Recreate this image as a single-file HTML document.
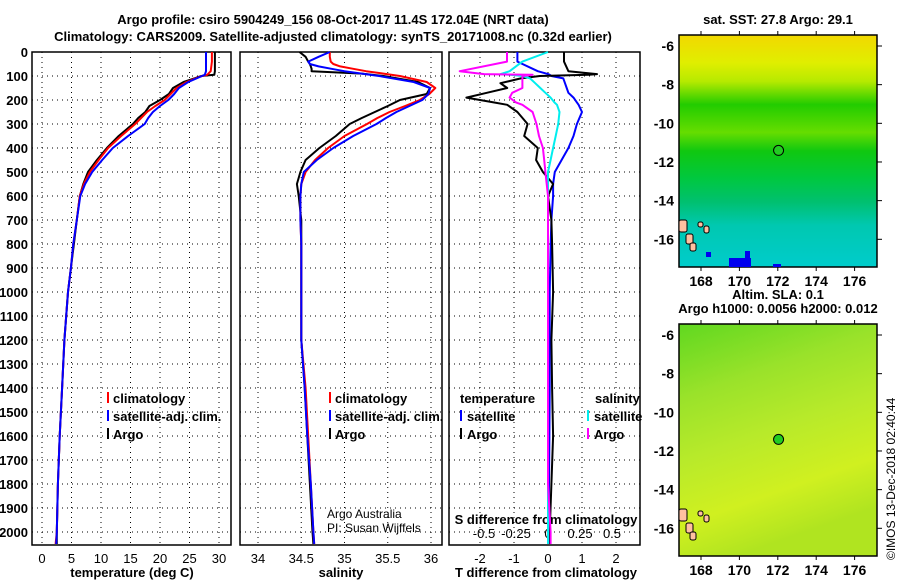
<!DOCTYPE html>
<html><head><meta charset="utf-8">
<style>
html,body{margin:0;padding:0;background:#fff;}
svg{display:block;font-family:"Liberation Sans",Arial,sans-serif;}
.b{font-weight:bold;font-size:13px;}
.t{font-weight:bold;font-size:13px;}
</style></head>
<body>
<svg id="c" width="900" height="580" viewBox="0 0 900 580" xmlns="http://www.w3.org/2000/svg">
<defs>
<linearGradient id="sstg" x1="0" y1="0" x2="0" y2="1">
<stop offset="0" stop-color="#f2d800"/><stop offset="0.12" stop-color="#e0ee00"/>
<stop offset="0.2" stop-color="#b6ea00"/><stop offset="0.3" stop-color="#22cc00"/>
<stop offset="0.42" stop-color="#66dd00"/><stop offset="0.5" stop-color="#10c810"/>
<stop offset="0.62" stop-color="#00c840"/><stop offset="0.72" stop-color="#00c070"/>
<stop offset="0.82" stop-color="#00c8b0"/><stop offset="1" stop-color="#00cccc"/>
</linearGradient>
<linearGradient id="slag" x1="0" y1="0" x2="0.3" y2="1">
<stop offset="0" stop-color="#60d820"/><stop offset="0.3" stop-color="#9ae22a"/>
<stop offset="0.55" stop-color="#b8ea2a"/><stop offset="0.8" stop-color="#d0f020"/>
<stop offset="1" stop-color="#b0e420"/>
</linearGradient>
</defs>
<text x="333" y="24" text-anchor="middle" class="t">Argo profile: csiro 5904249_156 08-Oct-2017 11.4S 172.04E (NRT data)</text>
<text x="333" y="41" text-anchor="middle" class="t">Climatology: CARS2009. Satellite-adjusted climatology: synTS_20171008.nc (0.32d earlier)</text>
<g id="g"></g>
</svg>
<script>
// ---- data ----
const depthT = [0,40,80,95,100,110,125,150,175,200,225,250,275,300,350,400,450,500,550,600,700,800,900,1000,1200,1400,1600,1800,2000,2050];
const tempClim = [28.8,28.8,28.6,28,27.1,26,24.5,22.8,21.8,20.8,19.2,17.8,16.8,15.8,13.4,11.2,9.6,8.1,7.1,6.4,5.9,5.3,4.9,4.4,3.8,3.4,3.0,2.7,2.5,2.3];
const tempSat = [27.8,27.8,27.8,27.6,27.1,26.2,24.8,23.2,22.4,21.4,20,18.8,18,17.4,14.6,12.0,10.2,8.5,7.3,6.5,5.9,5.3,4.9,4.4,3.8,3.4,3.0,2.7,2.5,2.4];
const tempArgo = [29.3,29.3,29.3,29.2,27.0,25.8,24,22.2,21.5,20.0,18.2,17.5,16.3,15.4,13.0,11.0,9.3,7.8,7.0,6.4,5.9,5.4,4.9,4.4,3.8,3.4,3.0,2.7,2.5,2.5];
const depthS = [0,20,40,50,60,70,80,90,100,125,150,175,200,225,250,275,300,350,400,450,500,550,600,700,800,1000,1200,1400,1600,1800,2000,2050];
const salClim = [34.83,34.83,34.84,34.87,34.95,35.1,35.25,35.45,35.64,35.95,36.05,35.98,35.87,35.7,35.52,35.38,35.26,35.0,34.81,34.66,34.55,34.5,34.49,34.49,34.5,34.5,34.5,34.55,34.58,34.61,34.64,34.65];
const salSat = [34.83,34.7,34.58,34.6,34.7,34.85,35.0,35.2,35.4,35.8,35.99,35.97,35.9,35.75,35.6,35.48,35.37,35.1,34.87,34.68,34.53,34.5,34.49,34.49,34.5,34.5,34.5,34.54,34.57,34.61,34.64,34.65];
const salArgo = [34.48,34.55,34.58,34.6,34.61,34.62,34.62,35.2,35.45,35.85,35.99,35.95,35.64,35.5,35.35,35.2,35.06,34.9,34.71,34.55,34.49,34.45,34.47,34.5,34.5,34.5,34.5,34.54,34.57,34.6,34.63,34.64];
const depthD = [0,40,80,92,95,100,110,130,150,170,190,210,220,250,300,350,400,450,500,550,600,700,800,1000,1200,1400,1600,1800,2000,2050];
const dTArgo = [0.47,0.47,0.6,1.44,1.2,-0.24,-0.8,-1.4,-1.2,-1.8,-2.4,-1.6,-1.2,-0.9,-0.6,-0.7,-0.3,-0.35,-0.15,0.15,0,0.1,0.12,0.15,0.1,0.12,0.15,0.1,0.05,0.05];
const dTSat = [-0.9,-0.9,-0.3,0,0.05,0.1,0.45,0.5,0.55,0.6,0.75,0.85,0.9,1.0,0.85,0.75,0.6,0.4,0.2,0.15,0.15,0.1,0.08,0.05,0.05,0.05,0.04,0.03,0.02,0.02];
const dSSat = [0,-0.2,-0.3,-0.37,-0.3,-0.2,-0.14,-0.1,-0.06,-0.02,0.02,0.05,0.07,0.09,0.08,0.06,0.04,0.02,0,0,0,0,0,0,0,0,0,0,0,0];
const dSArgo = [-0.32,-0.32,-0.69,-0.5,-0.12,-0.2,-0.2,-0.2,-0.2,-0.28,-0.3,-0.25,-0.2,-0.12,-0.09,-0.07,-0.04,-0.03,-0.02,-0.01,0,0,0,0,0,0,0,0,0.02,0.02];
const depthTicks = [0,100,200,300,400,500,600,700,800,900,1000,1100,1200,1300,1400,1500,1600,1700,1800,1900,2000];
const tTicks = [0,5,10,15,20,25,30];
const sTicks = [34,34.5,35,35.5,36];
const sTickLabels = ['34','34.5','35','35.5','36'];
const dTTicks = [-2,-1,0,1,2];
const dSTicks = [-0.5,-0.25,0,0.25,0.5];
const dSTickLabels = ['-0.5','-0.25','0','0.25','0.5'];
const lonTicks = [168,170,172,174,176];
const latTicks = [-6,-8,-10,-12,-14,-16];
const argoLon = [172.04];
const argoLat = [-11.4];

// ---- scales ----
const NS='http://www.w3.org/2000/svg';
const G=document.getElementById('g');
function el(tag,attrs,parent){const e=document.createElementNS(NS,tag);for(const k in attrs)e.setAttribute(k,attrs[k]);(parent||G).appendChild(e);return e;}
const yD = d => 52 + d*0.24;
const xT = t => 42 + t*5.9;
const xS = s => 258 + (s-34)*86.5;
const xDT = v => 548 + v*34;
const xDS = v => 548 + v*128;
const TOP=52, BOT=545;

function frame(x0,x1,name){
  const r=el('rect',{x:x0,y:TOP,width:x1-x0,height:BOT-TOP,fill:'none',stroke:'#000','stroke-width':1.5});
  
  
  depthTicks.forEach(d=>{
    const l=el('line',{x1:x0,x2:x1,y1:yD(d),y2:yD(d),stroke:'#000','stroke-dasharray':'1,4','stroke-width':1});
    
    
  });
}
function vgrid(xs,fx,name){
  xs.forEach(v=>{
    const l=el('line',{x1:fx(v),x2:fx(v),y1:TOP,y2:BOT,stroke:'#000','stroke-dasharray':'1,4','stroke-width':1});
    
    
  });
}
function line(ds,vs,fx,color,name,w){
  const p=ds.map((d,i)=>fx(vs[i]).toFixed(1)+','+yD(d).toFixed(1)).join(' ');
  const e=el('polyline',{points:p,fill:'none',stroke:color,'stroke-width':w||2,'stroke-linejoin':'round'});
  
  
}
function txt(x,y,s,anchor,name,extra){
  const t=el('text',Object.assign({x:x,y:y,'text-anchor':anchor||'start','font-size':13,'font-weight':'bold'},extra||{}));
  t.textContent=s;
  
  
  return t;
}
function legendMark(x,y,color){
  const l=el('line',{x1:x,x2:x,y1:y-11,y2:y,stroke:color,'stroke-width':2});
  
  
}

// ---- panel 1 temperature ----
frame(32,231,'temperature-panel');
vgrid(tTicks,xT,'temperature-gridline');
depthTicks.forEach(d=>txt(28,yD(d)+5,String(d),'end','depth-tick-label'));
tTicks.forEach(t=>txt(xT(t),563,String(t),'middle','temperature-tick-label',{'font-weight':'normal'}));
txt(132,577,'temperature (deg C)','middle','temperature-axis-title');
line(depthT,tempArgo,xT,'#000','temperature-argo-line');
line(depthT,tempClim,xT,'#f00','temperature-climatology-line');
line(depthT,tempSat,xT,'#00f','temperature-satellite-line');
[['climatology','#f00'],['satellite-adj. clim.','#00f'],['Argo','#000']].forEach((e,i)=>{
  legendMark(108,403+i*18,e[1]);txt(113,403+i*18,e[0],'start','temperature-legend-entry');
});

// ---- panel 2 salinity ----
frame(240,442,'salinity-panel');
vgrid(sTicks,xS,'salinity-gridline');
sTicks.forEach((s,i)=>txt(xS(s),563,sTickLabels[i],'middle','salinity-tick-label',{'font-weight':'normal'}));
txt(341,577,'salinity','middle','salinity-axis-title');
line(depthS,salArgo,xS,'#000','salinity-argo-line');
line(depthS,salClim,xS,'#f00','salinity-climatology-line');
line(depthS,salSat,xS,'#00f','salinity-satellite-line');
[['climatology','#f00'],['satellite-adj. clim.','#00f'],['Argo','#000']].forEach((e,i)=>{
  legendMark(330,403+i*18,e[1]);txt(335,403+i*18,e[0],'start','salinity-legend-entry');
});
txt(327,518,'Argo Australia','start','credit-argo-australia',{'font-weight':'normal','font-size':12});
txt(327,532,'PI: Susan Wijffels','start','credit-pi',{'font-weight':'normal','font-size':12});

// ---- panel 3 differences ----
frame(449,640,'difference-panel');
vgrid(dTTicks,xDT,'difference-gridline');
dTTicks.forEach(v=>txt(xDT(v),563,String(v),'middle','t-difference-tick-label',{'font-weight':'normal'}));
dSTicks.forEach((v,i)=>txt(xDS(v),538,dSTickLabels[i],'middle','s-difference-tick-label',{'font-weight':'normal'}));
txt(546,577,'T difference from climatology','middle','t-difference-axis-title');
txt(546,524,'S difference from climatology','middle','s-difference-axis-title');
line(depthD,dTSat,xDT,'#00f','t-diff-satellite-line');
line(depthD,dTArgo,xDT,'#000','t-diff-argo-line');
line(depthD,dSSat,xDS,'#0ee','s-diff-satellite-line');
line(depthD,dSArgo,xDS,'#f0f','s-diff-argo-line');
txt(460,403,'temperature','start','legend-temperature-header');
txt(595,403,'salinity','start','legend-salinity-header');
legendMark(461,421,'#00f');txt(467,421,'satellite','start','legend-t-satellite');
legendMark(461,439,'#000');txt(467,439,'Argo','start','legend-t-argo');
legendMark(588,421,'#0ee');txt(594,421,'satellite','start','legend-s-satellite');
legendMark(588,439,'#f0f');txt(594,439,'Argo','start','legend-s-argo');

// ---- maps ----
const xLon = lon => 701 + (lon-168)*19.2;
function map(yOff,fill,name,titleLines){
  const yLat = lat => 46+yOff + (-6-lat)*19.33;
  const r=el('rect',{x:679,y:35+yOff,width:198,height:232,fill:fill,stroke:'#000','stroke-width':1.5});
  
  
  // islands (Vanuatu) approximate
  [[679,220,8,12],[686,234,7,10],[690,243,6,8],[704,226,5,7],[698,222,5,5]].forEach(b=>{
    const e=el('rect',{x:b[0],y:b[1]+yOff,width:b[2],height:b[3],fill:'#ffc0a0',stroke:'#000','stroke-width':1,rx:2});
    
    
  });
  lonTicks.forEach(l=>{
    const t=el('line',{x1:xLon(l),x2:xLon(l),y1:267+yOff,y2:271+yOff,stroke:'#000'});
    
    const t2=el('line',{x1:xLon(l),x2:xLon(l),y1:31+yOff,y2:35+yOff,stroke:'#000'});
    
    txt(xLon(l),286+yOff,String(l),'middle','lon-tick-label',{'font-size':14});
  });
  latTicks.forEach(l=>{
    const t=el('line',{x1:877,x2:882,y1:yLat(l),y2:yLat(l),stroke:'#000'});
    
    txt(674,yLat(l)+5,String(l),'end','lat-tick-label',{'font-size':14});
  });
  argoLon.forEach((lo,i)=>{
    const c=el('circle',{cx:xLon(lo),cy:yLat(argoLat[i]),r:5,fill:'#22cc22',stroke:'#000','stroke-width':1});
    
    
  });
  titleLines.forEach((s,i)=>txt(778,24+yOff-(titleLines.length-1-i)*14 - (yOff?0:0),s,'middle','map-title'));
}
map(0,'url(#sstg)','sst-map',['sat. SST: 27.8 Argo: 29.1']);
// blue patch bottom of SST map
[[729,258,22,9],[745,251,5,8],[773,264,8,3],[706,252,5,5]].forEach(b=>{
  const e=el('rect',{x:b[0],y:b[1],width:b[2],height:b[3],fill:'#0000ee'});
  
  
});
map(289,'url(#slag)','sla-map',['Altim. SLA: 0.1','Argo h1000: 0.0056 h2000: 0.012']);
const cr=txt(895,560,'©IMOS 13-Dec-2018 02:40:44','start','imos-credit',{'font-weight':'normal','font-size':12,transform:'rotate(-90 895 560)'});
</script>
</body></html>
